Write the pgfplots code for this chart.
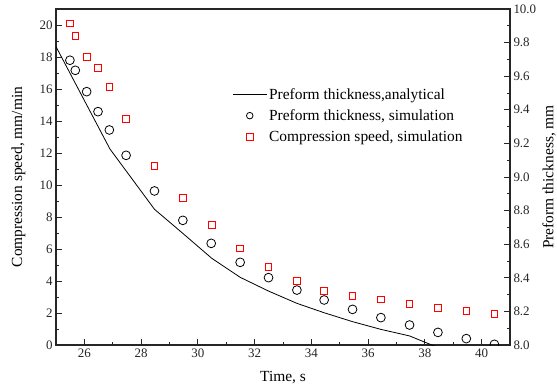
\documentclass[border=0pt]{standalone}
\usepackage{pgfplots}
\pgfplotsset{compat=1.18}
\usepackage{fontspec}
\setmainfont{Liberation Serif}
\begin{document}
\begin{tikzpicture}
\pgfplotsset{
  every axis/.append style={
    scale only axis, width=454bp, height=336bp, xmin=25, xmax=41,
    tick align=inside, major tick length=6bp, minor tick length=3bp,
    axis line style={line width=1.1bp, black!85},
    every tick/.style={line width=0.9bp, black!85},
    /pgf/number format/assume math mode=true,
    tick label style={font=\fontsize{13}{13}\selectfont, text=black!85},
    every axis x label/.style={at={(rel axis cs:0.5,0)}, anchor=center, yshift=-33bp, font=\fontsize{15.5}{15.5}\selectfont},
  }
}
\begin{axis}[name=main,
  xtick={26,28,...,40}, minor x tick num=1, xtick pos=bottom,
  ymin=0, ymax=21, ytick={0,2,...,20}, minor y tick num=1, ytick pos=left,
  xlabel={Time, s},
  every axis y label/.style={at={(rel axis cs:0,0.5)}, xshift=-37.5bp, rotate=90, anchor=center, font=\fontsize{15.5}{15.5}\selectfont},
  ylabel={Compression speed, mm/min},
  clip=false,
]
\addplot[only marks, mark=square, mark size=3.3bp, red, mark options={line width=0.8bp}] coordinates {
(25.49,20.1) (25.68,19.33) (26.08,18.02) (26.48,17.31) (26.88,16.12) (27.47,14.14) (28.47,11.21) (29.47,9.19) (30.49,7.52) (31.49,6.04) (32.49,4.90) (33.49,4.02) (34.45,3.40) (35.45,3.06) (36.45,2.85) (37.46,2.56) (38.46,2.33) (39.46,2.15) (40.45,1.94)
};
\end{axis}
\begin{axis}[
  axis x line=none, axis y line*=right,
  ymin=8, ymax=10, ytick={8.0,8.2,8.4,8.6,8.8,9.0,9.2,9.4,9.6,9.8,10.0}, minor y tick num=1, ytick pos=right,
  yticklabel style={/pgf/number format/.cd, fixed, fixed zerofill, precision=1},
  every axis y label/.style={at={(rel axis cs:1,0.5)}, xshift=39bp, rotate=90, anchor=center, font=\fontsize{15.5}{15.5}\selectfont},
  ylabel={Preform thickness, mm},
  legend cell align=left,
  legend image code/.code={\draw[mark repeat=2,mark phase=2,#1] plot coordinates {(0bp,0bp) (17bp,0bp) (34bp,0bp)};},
  legend style={draw=none, fill=none, at={(rel axis cs:0.388,0.771)}, anchor=north west, inner sep=0pt,
    font=\fontsize{15.5}{17}\selectfont, row sep=5bp},
]
\addplot[black, line width=0.8bp, mark=none] coordinates {
(25,9.776) (26.9,9.167) (28.47,8.808) (29.5,8.66) (30.49,8.516) (31.49,8.403) (32.49,8.321) (33.49,8.248) (34.45,8.192) (35.45,8.139) (36.45,8.093) (37.46,8.054) (38.46,7.985)
};
\addlegendentry{Preform thickness,analytical}
\addplot[only marks, mark=o, mark size=4.4bp, black, mark options={line width=0.8bp}, clip mode=individual, forget plot] coordinates {
(25.49,9.695) (25.68,9.635) (26.08,9.508) (26.48,9.389) (26.88,9.280) (27.47,9.129) (28.47,8.917) (29.47,8.742) (30.47,8.605) (31.49,8.492) (32.49,8.401) (33.49,8.327) (34.45,8.268) (35.45,8.212) (36.45,8.163) (37.46,8.119) (38.46,8.075) (39.46,8.038) (40.45,8.004)
};
\addlegendimage{only marks, mark=o, mark size=3.3bp, black, mark options={line width=0.8bp}}
\addlegendentry{Preform thickness, simulation}
\addlegendimage{only marks, mark=square, mark size=3.2bp, red, mark options={line width=0.8bp}}
\addlegendentry{Compression speed, simulation}
\end{axis}
\path (main.south west) ++(-56bp,-47bp) coordinate (bl);
\path (main.north east) ++(47bp,9bp) coordinate (tr);
\pgfresetboundingbox
\path[use as bounding box] (bl) rectangle (tr);
\end{tikzpicture}
\end{document}
